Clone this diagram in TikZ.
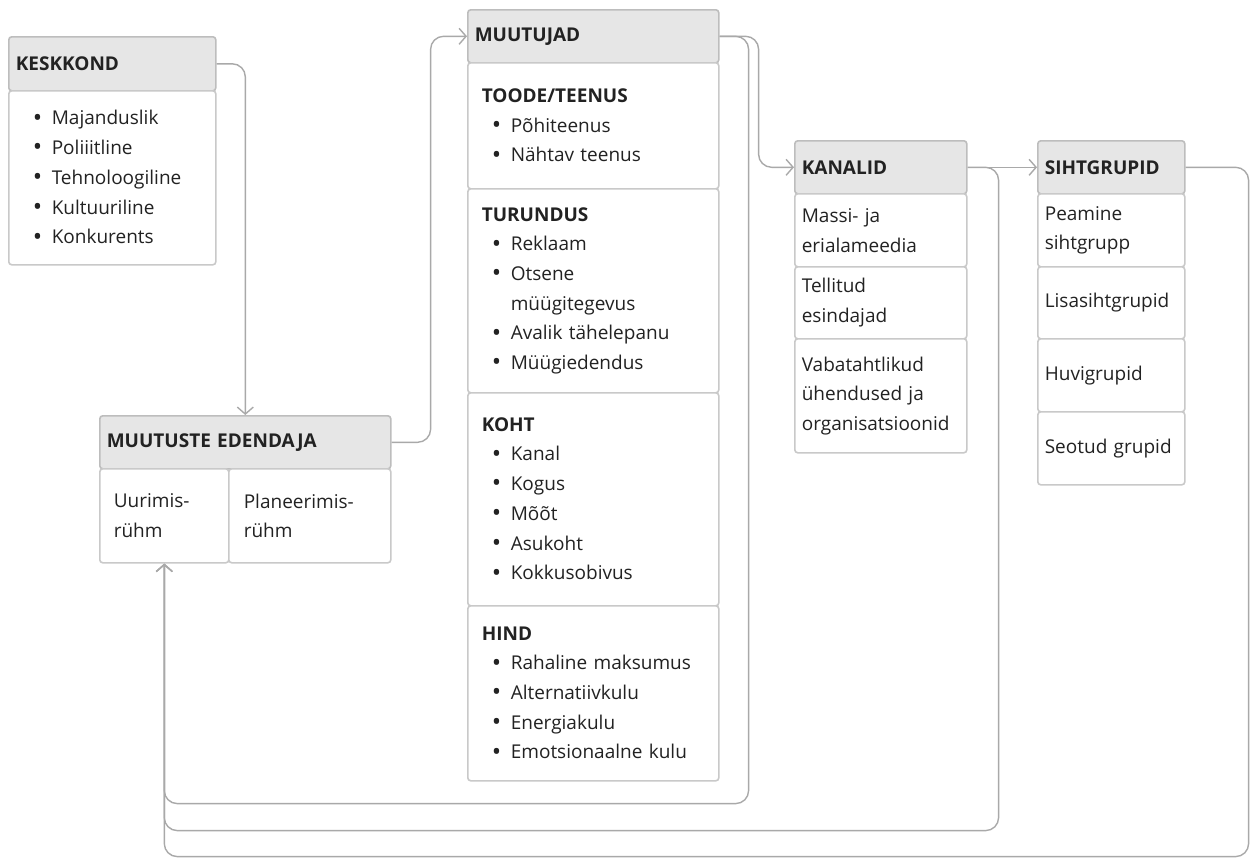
\documentclass[tikz,border=0pt]{standalone}
\usepackage{fontspec}
\setmainfont{Open Sans}
\usetikzlibrary{arrows.meta,calc}
\definecolor{bordc}{HTML}{C9C9C9}
\definecolor{hbordc}{HTML}{BDBDBD}
\definecolor{hdrc}{HTML}{E6E6E6}
\definecolor{connc}{HTML}{A9A9A9}
\definecolor{txtc}{HTML}{222222}
\newcommand\bodyfnt{\fontsize{19}{29.7}\selectfont}
\newcommand\hdrfnt{\fontsize{19}{29.7}\selectfont\bfseries}
\newcommand\bul{\raisebox{-1.3pt}{\fontsize{25}{0}\selectfont\textbullet}}
\newcommand\bi[1]{\hspace*{10pt}\makebox[19pt][l]{\bul}#1}
\newcommand\bcont[1]{\hspace*{29pt}#1}
\tikzset{
  box/.style={draw=bordc, line width=1.6pt, rounded corners=3pt, fill=white,
    anchor=north west, inner xsep=7pt, inner ysep=0pt, align=left,
    text=txtc, font=\bodyfnt},
  hdr/.style={box, draw=hbordc, fill=hdrc, font=\hdrfnt},
  conn/.style={draw=connc, line width=1.4pt, rounded corners=13pt,
    -{Straight Barb[length=7pt,width=16pt,line width=1.4pt]}},
}
\begin{document}
\begin{tikzpicture}[x=1pt,y=-1pt]
\useasboundingbox[fill=white] (0,0) rectangle (1257,857);
% KESKKOND
\node[hdr, text width=193pt, minimum height=54pt] (kesk) at (8,36) {KESKKOND};
\node[box, inner xsep=14pt, text width=179pt, minimum height=174pt] (keskb) at (8,90)
  {\bi{Majanduslik}\\\bi{Poliiitline}\\\bi{Tehnoloogiline}\\\bi{Kultuuriline}\\\bi{Konkurents}};
% MUUTUSTE EDENDAJA
\node[hdr, text width=277pt, minimum height=53pt] (med) at (99,415) {MUUTUSTE EDENDAJA};
\node[box, inner xsep=14pt, text width=101pt, minimum height=94pt] (uur) at (99,468)
  {Uurimis-\\rühm};
\node[box, inner xsep=15pt, text width=132pt, minimum height=94pt] (pla) at (228,468)
  {Planeerimis-\\rühm};
% MUUTUJAD
\node[hdr, text width=237pt, minimum height=53pt] (muu) at (467,9) {MUUTUJAD};
\node[box, inner xsep=14pt, text width=223pt, minimum height=126pt] (toode) at (467,62)
  {\textbf{TOODE/TEENUS}\\\bi{Põhiteenus}\\\bi{Nähtav teenus}};
\node[box, inner xsep=14pt, text width=223pt, minimum height=204pt] (turu) at (467,188)
  {\textbf{TURUNDUS}\\\bi{Reklaam}\\\bi{Otsene}\\\bcont{müügitegevus}\\\bi{Avalik tähelepanu}\\\bi{Müügiedendus}};
\node[box, inner xsep=14pt, text width=223pt, minimum height=213pt] (koht) at (467,392)
  {\textbf{KOHT}\\\bi{Kanal}\\\bi{Kogus}\\\bi{Mõõt}\\\bi{Asukoht}\\\bi{Kokkusobivus}};
\node[box, inner xsep=14pt, text width=223pt, minimum height=175pt] (hind) at (467,605)
  {\textbf{HIND}\\\bi{Rahaline maksumus}\\\bi{Alternatiivkulu}\\\bi{Energiakulu}\\\bi{Emotsionaalne kulu}};
% KANALID
\node[hdr, text width=158pt, minimum height=53pt] (kan) at (794,140) {KANALID};
\node[box, text width=158pt, minimum height=73pt] (kan1) at (794,193) {Massi- ja\\erialameedia};
\node[box, text width=158pt, minimum height=72pt] (kan2) at (794,266) {Tellitud\\esindajad};
\node[box, text width=158pt, minimum height=114pt] (kan3) at (794,338) {Vabatahtlikud\\ühendused ja\\organisatsioonid};
% SIHTGRUPID
\node[hdr, text width=133pt, minimum height=53pt] (siht) at (1037,140) {SIHTGRUPID};
\node[box, text width=133pt, minimum height=73pt] (s1) at (1037,193) {Peamine\\sihtgrupp};
\node[box, text width=133pt, minimum height=72pt] (s2) at (1037,266) {Lisasihtgrupid};
\node[box, text width=133pt, minimum height=73pt] (s3) at (1037,338) {Huvigrupid};
\node[box, text width=133pt, minimum height=73pt] (s4) at (1037,411) {Seotud grupid};
% connectors
\draw[conn] (kesk.east) -| (med.north);
\draw[conn] (med.east) -- ++(39,0) |- (muu.west);
\draw[conn] (muu.east) -- ++(39,0) |- (kan.west);
\draw[conn] (kan.east) -- (siht.west);
\draw[conn] (muu.east) -- ++(29,0) |- ($(uur.south)+(0,240)$) -- (uur.south);
\draw[conn] (kan.east) -- ++(31,0) |- ($(uur.south)+(0,267)$) -- (uur.south);
\draw[conn] (siht.east) -- ++(63,0) |- ($(uur.south)+(0,293)$) -- (uur.south);
\end{tikzpicture}
\end{document}
